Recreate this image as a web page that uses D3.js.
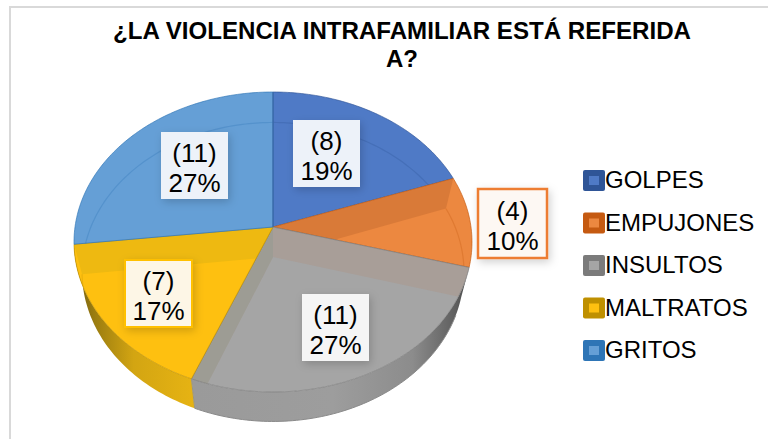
<!DOCTYPE html>
<html><head><meta charset="utf-8">
<script src="https://cdn.jsdelivr.net/npm/d3@7"></script>
<style>html,body{margin:0;padding:0;background:#fff;overflow:hidden}svg{display:block}text{font-family:"Liberation Sans",Arial,sans-serif;fill:#000}</style>
</head><body><svg id="c" width="768" height="439"></svg>
<script>
const categories=["GOLPES","EMPUJONES","INSULTOS","MALTRATOS","GRITOS"];
const values=[8,4,11,7,11];
const percents=["19%","10%","27%","17%","27%"];
const faceColors=["#4f7ac6","#ec8840","#a5a5a5","#fec010","#659fd6"];
const edgeColors=["#2f5597","#c55a11","#7b7b7b","#bf9000","#2e75b6"];
const wallColors=["#3f68b0","#d97a38","#a89e98","#eeb911","#4f88c4"];
const labelFills=["#edf2f9","#fdf8f3","#f5f5f5","#fdf6e6","#edf2f9"];
const titleLines=["¿LA VIOLENCIA INTRAFAMILIAR ESTÁ REFERIDA","A?"];

const svg=d3.select("#c");
const defs=svg.append("defs");
// perspective projection of the pie disc
const persp=-0.1, cx=273;
const topDisc={cy:227,r:198,a:148.5}, botDisc={cy:257,r:190,a:148};
function proj(d,t){const u=Math.sin(t),v=-Math.cos(t),w=1+persp*v;return [cx+d.r*u/w,d.cy+d.a*v/w];}
const apex=d=>[cx,d.cy];
const line=d3.line();
function arcPts(d,a,b){const n=Math.max(2,Math.ceil(Math.abs(b-a)/0.02));return d3.range(n+1).map(i=>proj(d,a+(b-a)*i/n));}
const arcs=d3.pie().sort(null)(values);

// frame
svg.append("rect").attr("x",10).attr("y",7).attr("width",800).attr("height",600).attr("fill","#fff").attr("stroke","#d9d9d9").attr("stroke-width",2);

// title
titleLines.forEach((t,i)=>svg.append("text").attr("x",402).attr("y",39+i*28).attr("text-anchor","middle")
  .attr("font-size",24).attr("font-weight","bold").attr("textLength",i==0?578:null).attr("lengthAdjust","spacingAndGlyphs").text(t));

// side wall gradients
function grad(id,stops){const g=defs.append("linearGradient").attr("id",id).attr("gradientUnits","userSpaceOnUse").attr("x1",74).attr("x2",472).attr("y1",0).attr("y2",0);
  stops.forEach(s=>g.append("stop").attr("offset",s[0]).attr("stop-color",s[1]));}
grad("sideY",[[0,"#6f5a10"],[0.05,"#9a7c10"],[0.15,"#d3a512"],[0.3,"#e6b313"]]);
grad("sideG",[[0.3,"#9a9a9a"],[0.65,"#9d9d9d"],[0.85,"#8c8c8c"],[0.96,"#5e5e5e"],[1,"#444"]]);

const tGY=arcs[2].endAngle, tYG=arcs[3].endAngle;
const sideSpan=[[arcs[2].startAngle,tGY,"url(#sideG)"],[tGY,tYG,"url(#sideY)"]];
sideSpan.forEach(s=>{
  const top=arcPts(topDisc,s[0],s[1]), bot=arcPts(botDisc,s[0],s[1]).reverse();
  svg.append("path").attr("d",line(top.concat(bot))+"Z").attr("fill",s[2]).attr("stroke","none");
});
// lower silhouette line
svg.append("path").attr("d",line(arcPts(botDisc,arcs[2].startAngle+0.12,tGY))).attr("fill","none").attr("stroke","#8a8a8a").attr("stroke-width",1);

// faces
arcs.forEach((d,i)=>{
  const pts=[apex(topDisc)].concat(arcPts(topDisc,d.startAngle,d.endAngle));
  const path=line(pts)+"Z";
  defs.append("clipPath").attr("id","clip"+i).append("path").attr("d",path);
  const g=svg.append("g");
  g.append("path").attr("d",path).attr("fill",faceColors[i]);
  const c=g.append("g").attr("clip-path",`url(#clip${i})`);
  // see-through inner wall of the slice boundary that runs behind this face
  const wallAngle=i==2?d.endAngle:d.startAngle;
  const wall=p=>line([apex(topDisc),proj(topDisc,p),proj(botDisc,p),apex(botDisc)])+"Z";
  c.append("path").attr("d",wall(i==3?d.endAngle:wallAngle)).attr("fill",wallColors[i]);
  if(i==2) c.append("path").attr("d",wall(d.startAngle)).attr("fill",wallColors[2]);
  if(i==2) c.append("path").attr("d",wall(d.endAngle)).attr("fill","#9d9c94");
  // bottom rim seen through the face
  c.append("path").attr("d",line(arcPts(botDisc,d.startAngle,d.endAngle))).attr("fill","none").attr("stroke",d3.color(edgeColors[i]).copy({opacity:0.3})).attr("stroke-width",1.2);
  // outline
  g.append("path").attr("d",path).attr("fill","none").attr("stroke",d3.color(edgeColors[i]).copy({opacity:0.65})).attr("stroke-width",1);
});
// the vertical wall at twelve o'clock
svg.append("path").attr("d",line([apex(topDisc),proj(topDisc,0)])).attr("stroke","#3d6aa9").attr("stroke-width",1.2).attr("fill","none");
// wall edge between yellow and grey on the side
svg.append("path").attr("d",line([proj(topDisc,tGY),proj(botDisc,tGY)])).attr("stroke","#9a9580").attr("stroke-width",1).attr("fill","none");

// data labels
const labelBox=[[293,120],[478,189],[302,294],[125,260],[161,132]];
const boxW=67;
const shadow=defs.append("filter").attr("id","sh").attr("x","-30%").attr("y","-30%").attr("width","160%").attr("height","160%");
shadow.append("feDropShadow").attr("dx",2).attr("dy",3).attr("stdDeviation",4).attr("flood-color","#000").attr("flood-opacity",0.18);
arcs.forEach((d,i)=>{
  const [x,y]=labelBox[i];
  const w=i==1?69:boxW;
  const g=svg.append("g").attr("transform",`translate(${x},${y})`);
  const stroke=i==1?"#ed7d31":(i==3?"#ffc000":"none");
  g.append("rect").attr("width",w).attr("height",w).attr("fill",labelFills[i]).attr("stroke",stroke).attr("stroke-width",i==1?2.5:(i==3?2:0)).attr("filter","url(#sh)");
  g.append("text").attr("x",w/2).attr("y",i==1?31:29.5).attr("text-anchor","middle").attr("font-size",26).text(`(${values[i]})`);
  g.append("text").attr("x",w/2).attr("y",i==1?61:59.5).attr("text-anchor","middle").attr("font-size",26).text(percents[i]);
});

// legend
const ly=d3.scalePoint().domain(categories).range([170,340]);
categories.forEach((c,i)=>{
  const g=svg.append("g").attr("transform",`translate(583,${ly(c)})`);
  g.append("rect").attr("width",22).attr("height",21).attr("rx",2).attr("fill",edgeColors[i]);
  g.append("rect").attr("x",6).attr("y",6).attr("width",10).attr("height",9).attr("fill",faceColors[i]);
  g.append("text").attr("x",22).attr("y",18).attr("font-size",24).text(c);
});
</script></body></html>
